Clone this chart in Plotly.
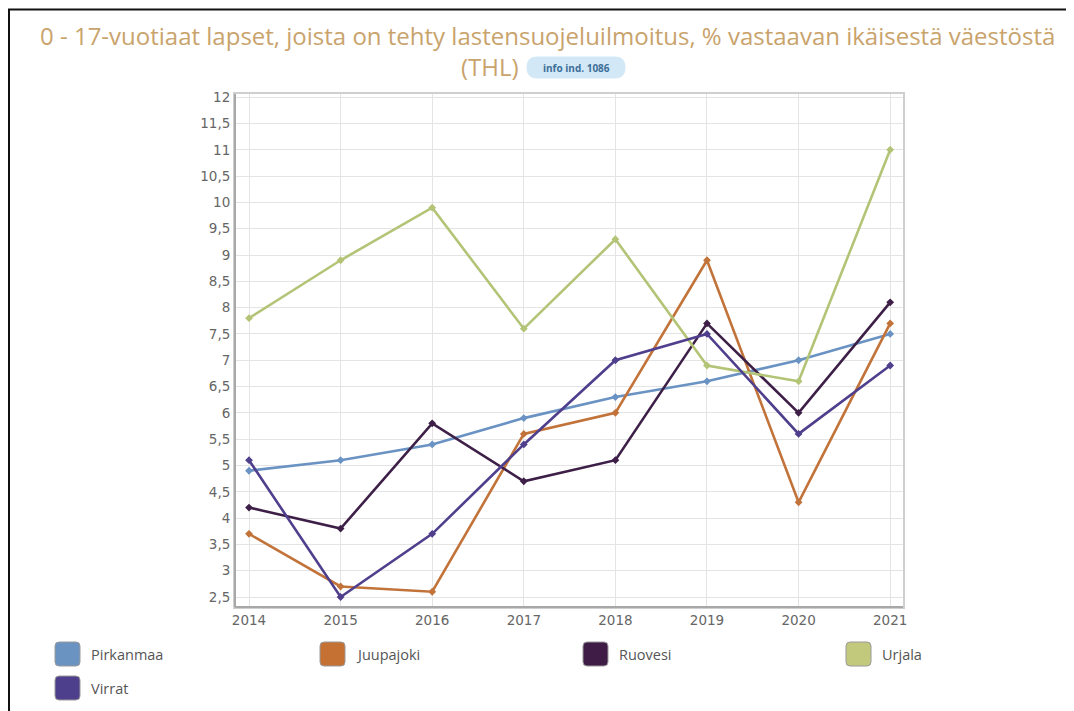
import plotly.graph_objects as go

years = [2014, 2015, 2016, 2017, 2018, 2019, 2020, 2021]
series_names = ["Pirkanmaa", "Juupajoki", "Ruovesi", "Urjala", "Virrat"]
pirkanmaa = [4.9, 5.1, 5.4, 5.9, 6.3, 6.6, 7.0, 7.5]
juupajoki = [3.7, 2.7, 2.6, 5.6, 6.0, 8.9, 4.3, 7.7]
ruovesi = [4.2, 3.8, 5.8, 4.7, 5.1, 7.7, 6.0, 8.1]
urjala = [7.8, 8.9, 9.9, 7.6, 9.3, 6.9, 6.6, 11.0]
virrat = [5.1, 2.5, 3.7, 5.4, 7.0, 7.5, 5.6, 6.9]
y_tick_vals = [2.5, 3, 3.5, 4, 4.5, 5, 5.5, 6, 6.5, 7, 7.5, 8, 8.5, 9, 9.5, 10, 10.5, 11, 11.5, 12]
y_tick_text = ["2,5", "3", "3,5", "4", "4,5", "5", "5,5", "6", "6,5", "7", "7,5", "8", "8,5", "9", "9,5", "10", "10,5", "11", "11,5", "12"]
title_line1 = "0 - 17-vuotiaat lapset, joista on tehty lastensuojeluilmoitus, % vastaavan ikäisestä väestöstä"
title_line2 = "(THL)"
badge_text = "info ind. 1086"

line_colors = ["#6a93c4", "#c2733a", "#3d1f47", "#b3c477", "#4f3f8c"]
legend_colors = ["#6b93c2", "#c57134", "#3e1c45", "#c2c97c", "#4e3f8d"]
all_values = [pirkanmaa, juupajoki, ruovesi, urjala, virrat]

# page body has an 8px margin; work in reference-pixel coordinates and subtract it
OFF = 8
W, H = 1074 - OFF, 711 - OFF
L, R, T, B = 235 - OFF, 903 - OFF, 94 - OFF, 607 - OFF


def px(x):
    return (x - OFF - L) / (R - L)


def py(y):
    return (B - (y - OFF)) / (B - T)


fig = go.Figure()
for name, vals, col in zip(series_names, all_values, line_colors):
    fig.add_trace(go.Scatter(
        x=years, y=vals, name=name, mode="lines+markers",
        line=dict(color=col, width=2.6),
        marker=dict(color=col, size=6, symbol="diamond"),
        showlegend=False,
    ))

shapes = []
annotations = []

# outer black border (top and left)
shapes.append(dict(type="line", xref="paper", yref="paper",
                   x0=px(8), x1=px(1074), y0=py(9.5), y1=py(9.5),
                   line=dict(color="#111", width=2)))
shapes.append(dict(type="line", xref="paper", yref="paper",
                   x0=px(9), x1=px(9), y0=py(9), y1=py(711),
                   line=dict(color="#111", width=2)))

# darker left / bottom axis frame
shapes.append(dict(type="line", xref="paper", yref="paper",
                   x0=0, x1=0, y0=0, y1=1, line=dict(color="#a8a8a8", width=2)))
shapes.append(dict(type="line", xref="paper", yref="paper",
                   x0=0, x1=1, y0=0, y1=0, line=dict(color="#a8a8a8", width=2)))


def rounded_rect(x0, y0, x1, y1, r):
    X0, X1 = px(x0), px(x1)
    Y0, Y1 = py(y0), py(y1)
    rx = r / (R - L)
    ry = r / (B - T)
    return (f"M {X0+rx},{Y0} L {X1-rx},{Y0} Q {X1},{Y0} {X1},{Y0-ry} "
            f"L {X1},{Y1+ry} Q {X1},{Y1} {X1-rx},{Y1} L {X0+rx},{Y1} "
            f"Q {X0},{Y1} {X0},{Y1+ry} L {X0},{Y0-ry} Q {X0},{Y0} {X0+rx},{Y0} Z")


# legend (manual)
legend_pos = [(55, 654), (320, 654), (583, 654), (846, 654), (55, 688)]
for (lx, ly), name, col in zip(legend_pos, series_names, legend_colors):
    shapes.append(dict(type="path", xref="paper", yref="paper",
                       path=rounded_rect(lx, ly - 12, lx + 25, ly + 12, 4),
                       fillcolor=col, line=dict(color="#9a9a9a", width=1)))
    annotations.append(dict(xref="paper", yref="paper", x=px(lx + 34), y=py(ly),
                            xanchor="left", yanchor="middle", showarrow=False,
                            text=name, font=dict(family="Open Sans", size=14.5, color="#555")))

# title
annotations.append(dict(xref="paper", yref="paper", x=px(547), y=py(35),
                        xanchor="center", yanchor="middle", showarrow=False,
                        text=title_line1,
                        font=dict(family="Open Sans", size=24, color="#c9a36c")))
annotations.append(dict(xref="paper", yref="paper", x=px(521), y=py(66),
                        xanchor="right", yanchor="middle", showarrow=False,
                        text=title_line2,
                        font=dict(family="Open Sans", size=24, color="#c9a36c")))
# badge
shapes.append(dict(type="path", xref="paper", yref="paper",
                   path=rounded_rect(527, 57, 625, 78, 10),
                   fillcolor="#d3e8f6", line=dict(color="#d3e8f6", width=1)))
annotations.append(dict(xref="paper", yref="paper", x=px(576), y=py(67.5),
                        xanchor="center", yanchor="middle", showarrow=False,
                        text="<b>" + badge_text + "</b>",
                        font=dict(family="Open Sans", size=10, color="#3c6e98")))

fig.update_layout(
    width=W, height=H, autosize=False,
    margin=dict(l=L, r=W - R, t=T, b=H - B, pad=0),
    paper_bgcolor="white", plot_bgcolor="white",
    shapes=shapes, annotations=annotations,
    showlegend=False,
    xaxis=dict(
        range=[2013.847, 2021.14], tickvals=years, ticktext=[str(y) for y in years],
        showgrid=True, gridcolor="#e4e4e4", gridwidth=1,
        showline=True, linecolor="#cfcfcf", linewidth=2, mirror=True,
        ticks="", zeroline=False,
        tickfont=dict(family="DejaVu Sans", size=13.5, color="#666"),
    ),
    yaxis=dict(
        range=[2.31, 12.06], tickvals=y_tick_vals, ticktext=y_tick_text,
        showgrid=True, gridcolor="#e4e4e4", gridwidth=1,
        showline=True, linecolor="#cfcfcf", linewidth=2, mirror=True,
        ticks="", zeroline=False,
        tickfont=dict(family="DejaVu Sans", size=13.5, color="#666"),
    ),
)

fig.write_html("out.html")
